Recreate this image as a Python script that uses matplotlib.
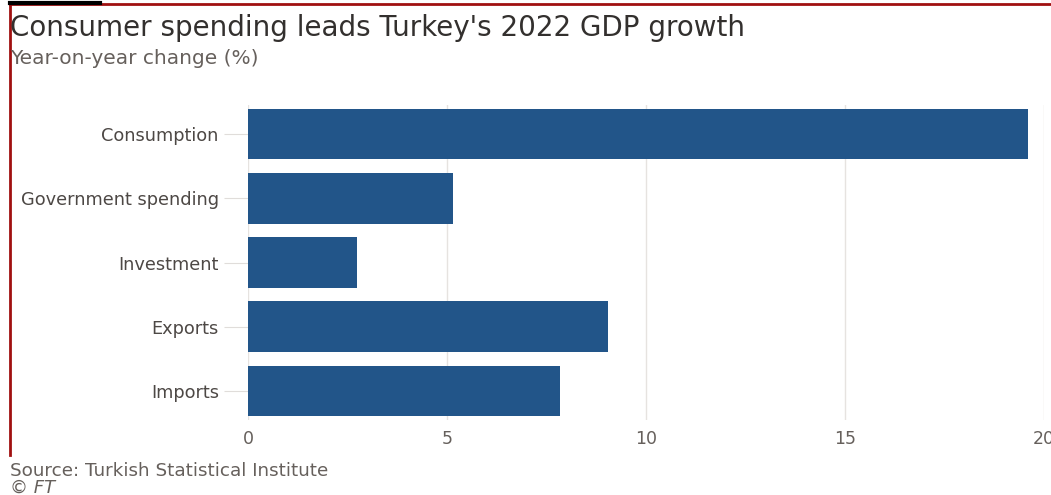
import matplotlib.pyplot as plt
import numpy as np

# data
categories = ["Consumption", "Government spending", "Investment", "Exports", "Imports"]
growth = [19.6, 5.15, 2.75, 9.05, 7.85]
xticks = [0, 5, 10, 15, 20]

plt.rcParams['font.family'] = ['DejaVu Sans']

W, H = 1051, 495
fig = plt.figure(figsize=(W / 100, H / 100), dpi=100)
ax = fig.add_axes([248 / W, 1 - 420 / H, (1044 - 248) / W, (420 - 105) / H])

y = np.arange(len(categories))
ax.barh(y, growth, height=0.79, color="#225589", zorder=3)
ax.set_ylim(len(categories) - 0.55, -0.45)
ax.set_xlim(0, 20)
ax.set_xticks(xticks)
ax.set_yticks(y)
ax.set_yticklabels(categories)

ax.grid(axis="x", color="#e6e3e0", linewidth=1, zorder=0)
for s in ax.spines.values():
    s.set_visible(False)
ax.tick_params(axis="x", length=0, pad=7, labelsize=12.5, labelcolor="#66605c")
ax.tick_params(axis="y", length=17, color="#e0ddda", pad=4, labelsize=12.8, labelcolor="#4d4845")
for lbl in ax.get_xticklabels():
    lbl.set_clip_on(False)

# titles and footer
fig.text(10 / W, 1 - 28 / H, "Consumer spending leads Turkey's 2022 GDP growth",
         fontsize=20, color="#33302e", va="center")
fig.text(10 / W, 1 - 59 / H, "Year-on-year change (%)", fontsize=14.5, color="#66605c", va="center")
fig.text(10 / W, 1 - 471 / H, "Source: Turkish Statistical Institute", fontsize=13.2, color="#66605c", va="center")
fig.text(10 / W, 1 - 488 / H, "\u00a9 FT", fontsize=13, color="#66605c", va="center", style="italic")

# frame lines of the screenshot
fig.add_artist(plt.Line2D([10 / W, 1], [1 - 4 / H, 1 - 4 / H], color="#a01010", linewidth=2))
fig.add_artist(plt.Line2D([10 / W, 10 / W], [1 - 4 / H, 1 - 455 / H], color="#a01010", linewidth=2))
fig.add_artist(plt.Line2D([10 / W, 100 / W], [1 - 3 / H, 1 - 3 / H], color="black", linewidth=3))

fig.savefig("out.png", dpi=100)
